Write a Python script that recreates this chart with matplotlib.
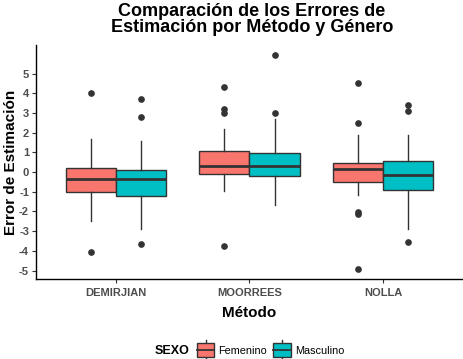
import matplotlib
matplotlib.use("Agg")
import matplotlib.pyplot as plt
from matplotlib.patches import Rectangle
from matplotlib.lines import Line2D
from matplotlib.legend_handler import HandlerBase

plt.rcParams['font.family'] = ['Liberation Sans', 'DejaVu Sans']
plt.rcParams['axes.unicode_minus'] = False

# data (error de estimación)
metodos = ['DEMIRJIAN', 'MOORREES', 'NOLLA']
sexos = ['Femenino', 'Masculino']
colores = {'Femenino': '#F8766D', 'Masculino': '#00BFC4'}

fem_q1 = [-1.00, -0.09, -0.50]
fem_med = [-0.37, 0.33, 0.14]
fem_q3 = [0.21, 1.08, 0.47]
fem_lo = [-2.50, -0.97, -1.18]
fem_hi = [1.69, 2.19, 1.89]
fem_out = [[4.02, -4.05], [4.32, 3.22, 3.00, -3.75], [4.53, 2.50, -2.02, -2.12, -4.91]]

masc_q1 = [-1.21, -0.19, -0.90]
masc_med = [-0.37, 0.33, -0.16]
masc_q3 = [0.11, 0.97, 0.57]
masc_lo = [-2.90, -1.66, -2.90]
masc_hi = [1.58, 2.70, 1.89]
masc_out = [[3.72, 2.80, -3.64], [5.95, 3.00], [3.41, 3.10, -3.54]]

series = {
    'Femenino': (fem_q1, fem_med, fem_q3, fem_lo, fem_hi, fem_out),
    'Masculino': (masc_q1, masc_med, masc_q3, masc_lo, masc_hi, masc_out),
}

edge = '#333333'
fig = plt.figure(figsize=(4.64, 3.59), dpi=100)
ax = fig.add_axes([36 / 464, 80 / 359, 427 / 464, 234 / 359])

ancho = 0.375
for k, sexo in enumerate(sexos):
    q1, med, q3, lo, hi, out = series[sexo]
    stats = []
    for i in range(len(metodos)):
        stats.append({'q1': q1[i], 'med': med[i], 'q3': q3[i],
                      'whislo': lo[i], 'whishi': hi[i], 'fliers': out[i]})
    pos = [i + (k - 0.5) * ancho for i in range(len(metodos))]
    ax.bxp(stats, positions=pos, widths=ancho, patch_artist=True,
           showcaps=False, manage_ticks=False,
           boxprops=dict(facecolor=colores[sexo], edgecolor=edge, linewidth=1.0),
           medianprops=dict(color=edge, linewidth=2.0, solid_capstyle='butt'),
           whiskerprops=dict(color=edge, linewidth=1.0),
           flierprops=dict(marker='o', markersize=3.8, markerfacecolor=edge,
                           markeredgecolor=edge, linestyle='none'))

ax.set_xlim(-0.6, 2.6)
ax.set_ylim(-5.43, 6.45)
ax.set_xticks(range(len(metodos)))
ax.set_xticklabels(metodos)
ax.set_yticks(range(-5, 6))
for s in ['top', 'right']:
    ax.spines[s].set_visible(False)
for s in ['left', 'bottom']:
    ax.spines[s].set_color('black')
    ax.spines[s].set_linewidth(1.0)
ax.tick_params(axis='both', length=3, width=0.8, color='#333333',
               labelsize=8, labelcolor='#4D4D4D', pad=2)
ax.tick_params(axis='x', pad=3.8)
for t in ax.get_xticklabels() + ax.get_yticklabels():
    t.set_fontweight('bold')

ax.set_xlabel('Método', fontsize=11, fontweight='bold', labelpad=5.5)
ax.set_ylabel('Error de Estimación', fontsize=11, fontweight='bold', labelpad=1)
fig.text(0.543, 0.992, 'Comparación de los Errores de\nEstimación por Método y Género',
         ha='center', va='top', fontsize=13, fontweight='bold', linespacing=0.95)


class HandlerCaja(HandlerBase):
    def create_artists(self, legend, orig, xd, yd, w, h, fontsize, trans):
        color = orig.get_facecolor()
        cy = yd + h / 2
        caja = Rectangle((xd, cy - 0.92 * h), w, 1.84 * h, facecolor=color,
                         edgecolor=edge, linewidth=1.0, transform=trans)
        bigote = Line2D([xd + w / 2, xd + w / 2], [cy - 1.3 * h, cy + 1.3 * h],
                        color=edge, linewidth=1.0, transform=trans)
        mediana = Line2D([xd, xd + w], [cy, cy], color=edge,
                         linewidth=1.3, transform=trans)
        return [bigote, caja, mediana]


handles = [Rectangle((0, 0), 1, 1, facecolor=colores[s]) for s in sexos]
fig.legend(handles, sexos, loc='center', bbox_to_anchor=(0.583, 0.023),
           ncol=2, frameon=False, fontsize=7.8, handlelength=1.64,
           handleheight=0.7, handletextpad=0.37, columnspacing=0.55,
           borderpad=0, borderaxespad=0,
           handler_map={Rectangle: HandlerCaja()})
fig.text(172 / 464, 0.023, 'SEXO', ha='center', va='center',
         fontsize=9, fontweight='bold')

fig.savefig('out.png', dpi=100)
